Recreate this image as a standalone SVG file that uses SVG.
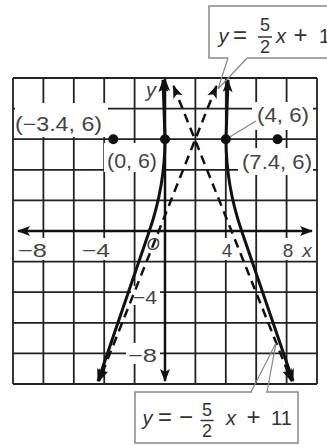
<svg xmlns="http://www.w3.org/2000/svg" width="327" height="445" viewBox="0 0 327 445">
<style>
.grid{stroke:#222;stroke-width:1.8;fill:none}
.axis{stroke:#111;stroke-width:2.5;fill:none}
.solid{stroke:#111;stroke-width:3;fill:none}
.dash{stroke:#111;stroke-width:2.5;fill:none;stroke-dasharray:9 6}
.bg{fill:#fff}
.lbl{font-family:"Liberation Sans",Arial,sans-serif;font-size:20px;fill:#444}
.eq{font-family:"Liberation Sans",Arial,sans-serif;font-size:20px;fill:#333}
.op{font-size:24px}
.it{font-style:italic}
.box{fill:#fff;stroke:#888;stroke-width:1.5}
.lead{stroke:#888;stroke-width:1.2;fill:none}
</style>
<defs>
<marker id="ah" markerUnits="userSpaceOnUse" orient="auto-start-reverse" refX="0" refY="0" markerWidth="20" markerHeight="20" overflow="visible">
<path d="M1,0 L-12,-5 L-9,0 L-12,5 Z" fill="#111"/>
</marker>
</defs>
<rect width="327" height="445" fill="#fff"/>
<g id="grid" class="grid">
<path d="M13,78 V384 M43.4,78 V384 M73.8,78 V384 M104.2,78 V384 M134.6,78 V384 M195.4,78 V384 M225.8,78 V384 M256.2,78 V384 M286.6,78 V384 M317,78 V384"/>
<path d="M13,78 H317 M13,108.6 H317 M13,139.2 H317 M13,169.8 H317 M13,200.4 H317 M13,261.6 H317 M13,292.2 H317 M13,322.8 H317 M13,353.4 H317 M13,384 H317"/>
</g>
<g id="label-backgrounds" class="bg">
<rect x="15" y="103" width="93" height="34"/>
<rect x="252" y="102" width="61" height="28"/>
<rect x="104" y="143" width="58" height="29"/>
<rect x="238" y="148" width="75" height="27"/>
<rect x="17" y="238" width="31" height="22"/>
<rect x="80" y="238" width="32" height="22"/>
<rect x="220" y="238" width="14" height="22"/>
<rect x="281" y="238" width="14" height="22"/>
<rect x="300" y="238" width="15" height="22"/>
<rect x="146" y="236" width="14" height="17"/>
<rect x="131" y="286" width="29" height="19"/>
<rect x="126" y="343" width="34" height="21"/>
</g>
<g id="axes">
<path class="axis" d="M18,231 H312" marker-start="url(#ah)" marker-end="url(#ah)"/>
<path class="axis" d="M165,79 V381" marker-start="url(#ah)" marker-end="url(#ah)"/>
</g>
<g id="connectors">
<path class="solid" d="M163,80 L165,139 Q165,186 149,232 L98,381" marker-start="url(#ah)" marker-end="url(#ah)"/>
<path class="solid" d="M228,80 L226,139 Q226,186 242,232 L293,381" marker-start="url(#ah)" marker-end="url(#ah)"/>
<path class="dash" d="M216.5,86 L99,381" marker-start="url(#ah)" marker-end="url(#ah)"/>
<path class="dash" d="M173.5,86 L291.5,381" marker-start="url(#ah)" marker-end="url(#ah)"/>
<path class="lead" d="M228,138 L256,121"/>
</g>
<g id="points" fill="#111">
<circle cx="113.3" cy="139.2" r="5"/>
<circle cx="165" cy="139.2" r="5"/>
<circle cx="225.8" cy="139.2" r="5"/>
<circle cx="277.5" cy="139.2" r="5"/>
</g>
<g id="point-labels" class="lbl">
<text x="15" y="131" textLength="87" lengthAdjust="spacingAndGlyphs">(−3.4, 6)</text>
<text x="107" y="168" textLength="50" lengthAdjust="spacingAndGlyphs">(0, 6)</text>
<text x="257" y="122" textLength="52" lengthAdjust="spacingAndGlyphs">(4, 6)</text>
<text x="242" y="169" textLength="70" lengthAdjust="spacingAndGlyphs">(7.4, 6)</text>
</g>
<g id="axis-labels" class="lbl" style="font-size:19px">
<text x="18" y="257" textLength="29" lengthAdjust="spacingAndGlyphs">−8</text>
<text x="82" y="257" textLength="28" lengthAdjust="spacingAndGlyphs">−4</text>
<text x="227" y="257" text-anchor="middle">4</text>
<text x="288" y="257" text-anchor="middle">8</text>
<text x="307" y="257" text-anchor="middle" class="it">x</text>
<text x="153" y="250" text-anchor="middle" class="it" style="font-size:17px">O</text>
<text x="151" y="97" text-anchor="middle" class="it" style="font-size:20px">y</text>
<text x="133" y="304" textLength="24" lengthAdjust="spacingAndGlyphs">−4</text>
<text x="128" y="362" textLength="29" lengthAdjust="spacingAndGlyphs">−8</text>
</g>
<g id="callout-top">
<path class="box" d="M330,6 H209 V58 H228"/>
<path class="box" d="M247,58 H330"/>
<path class="lead" d="M228,58 L218,89 L247,58"/>
<g class="eq" text-anchor="middle">
<text x="223.5" y="43" class="it">y</text>
<text x="240" y="43" class="op">=</text>
<text x="265" y="31" style="font-size:18px">5</text>
<text x="265" y="53" style="font-size:18px">2</text>
<text x="281" y="43" class="it">x</text>
<text x="300.5" y="43" class="op">+</text>
<text x="324.5" y="43">1</text>
</g>
<path d="M258,37 H272" stroke="#333" stroke-width="1.5"/>
</g>
<g id="callout-bottom">
<rect class="box" x="135" y="392" width="163" height="51"/>
<path d="M252,392 H266" stroke="#fff" stroke-width="2"/>
<path class="lead" d="M251,392 L276,343 L267,392"/>
<g class="eq" text-anchor="middle">
<text x="147.5" y="425" class="it">y</text>
<text x="165" y="425" class="op">=</text>
<text x="186" y="425" class="op">−</text>
<text x="207" y="416" style="font-size:18px">5</text>
<text x="207" y="437" style="font-size:18px">2</text>
<text x="231" y="425" class="it">x</text>
<text x="253.5" y="425" class="op">+</text>
<text x="281.5" y="425">11</text>
</g>
<path d="M200.5,420.5 H213.5" stroke="#333" stroke-width="1.5"/>
</g>
</svg>
